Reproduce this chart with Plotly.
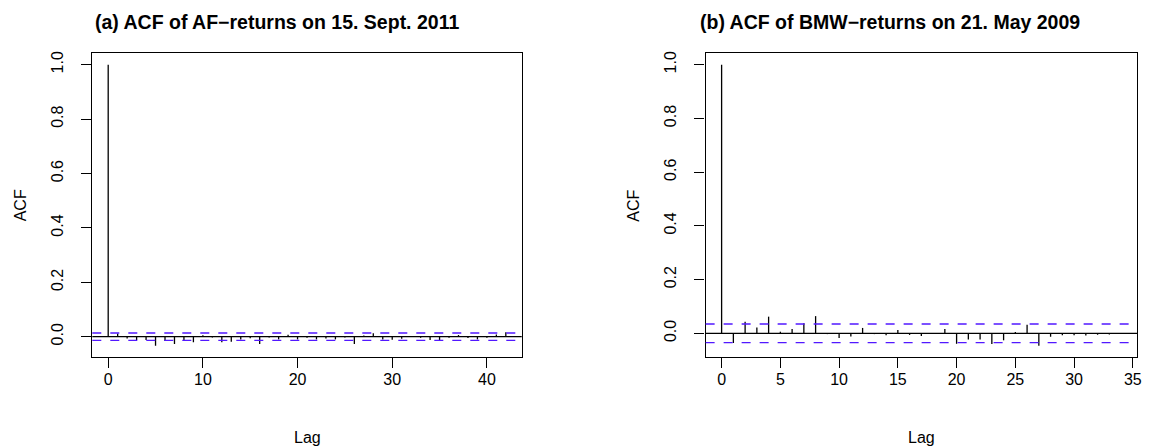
import plotly.graph_objects as go

# Sample autocorrelations of intraday returns
lags_af = list(range(0, 43))
acf_af = [1.0, 0.012, -0.007, -0.012, -0.012, -0.033, -0.016, -0.027, -0.014, -0.020,
          0.005, -0.003, -0.020, -0.019, -0.010, -0.006, -0.027, -0.003, -0.010, 0.007,
          -0.010, -0.004, -0.010, -0.007, -0.010, -0.003, -0.027, 0.004, 0.013, -0.010,
          -0.011, -0.008, 0.003, -0.004, -0.012, -0.013, -0.004, 0.006, -0.005, -0.010,
          -0.004, 0.008, 0.016]
ci_af = 0.0135

lags_bmw = list(range(0, 35))
acf_bmw = [1.0, -0.036, 0.043, 0.022, 0.062, 0.006, 0.016, 0.037, 0.064, -0.003,
           -0.017, -0.012, 0.020, -0.003, -0.007, 0.012, -0.006, -0.010, -0.002, 0.016,
           -0.039, -0.023, -0.023, -0.040, -0.026, 0.005, 0.032, -0.046, -0.013, -0.007,
           -0.007, -0.008, -0.005, -0.004, -0.003]
ci_bmw = 0.0345

titles = ["(a) ACF of AF\u2212returns on 15. Sept. 2011",
          "(b) ACF of BMW\u2212returns on 21. May 2009"]
x_ticks = [[0, 10, 20, 30, 40], [0, 5, 10, 15, 20, 25, 30, 35]]
y_ticks = [0.0, 0.2, 0.4, 0.6, 0.8, 1.0]

W, H = 1156, 447
FONT = "Liberation Sans, Arial, Helvetica, sans-serif"
CI_COLOR = "#5218ff"

# plot boxes in pixels: (left, right), shared top/bottom
boxes = [(92.7, 524.0), (708.7, 1142.0)]
top_px, bot_px = 51.7, 356.5
title_x = [278.5, 894.0]

fig = go.Figure()


def r_range(lo, hi):
    pad = 0.04 * (hi - lo)
    return [lo - pad, hi + pad]


panels = [(lags_af, acf_af, ci_af), (lags_bmw, acf_bmw, ci_bmw)]
for i, (lags, acf, ci) in enumerate(panels):
    xa = "x" if i == 0 else "x2"
    ya = "y" if i == 0 else "y2"
    xs, ys = [], []
    for k, v in zip(lags, acf):
        xs += [k, k, None]
        ys += [0, v, None]
    fig.add_trace(go.Scatter(x=xs, y=ys, mode="lines", xaxis=xa, yaxis=ya,
                             line=dict(color="black", width=1.3),
                             hoverinfo="skip", showlegend=False))

    ylo = min(min(acf), -ci)
    yr = r_range(ylo, 1.0)
    xr = r_range(0, max(lags))
    left, right = boxes[i]
    suffix = "" if i == 0 else "2"

    fig.layout["xaxis" + suffix] = dict(
        domain=[left / W, right / W], range=xr, anchor=ya,
        showline=True, mirror=True, linecolor="black", linewidth=1.3,
        ticks="outside", ticklen=10, tickwidth=1.3, tickcolor="black",
        tickvals=x_ticks[i], ticktext=[str(t) for t in x_ticks[i]],
        showgrid=False, zeroline=False, ticklabelstandoff=-2,
        tickfont=dict(family=FONT, size=16, color="black"))
    fig.layout["yaxis" + suffix] = dict(
        domain=[1 - bot_px / H, 1 - top_px / H], range=yr, anchor=xa,
        showline=True, mirror=True, linecolor="black", linewidth=1.3,
        ticks="outside", ticklen=10, tickwidth=1.3, tickcolor="black",
        tickvals=y_ticks, ticktext=["%.1f" % t for t in y_ticks],
        tickangle=-90, showgrid=False, zeroline=False, ticklabelstandoff=12,
        tickfont=dict(family=FONT, size=16, color="black"))

    # zero line and confidence band
    fig.add_shape(type="line", xref=xa + " domain", yref=ya,
                  x0=0, x1=1, y0=0, y1=0,
                  line=dict(color="black", width=1.3))
    for c in (ci, -ci):
        fig.add_shape(type="line", xref=xa + " domain", yref=ya,
                      x0=0, x1=1, y0=c, y1=c,
                      line=dict(color=CI_COLOR, width=1.4, dash="9px,9px"))

    # titles and axis labels
    fig.add_annotation(text="<b>" + titles[i] + "</b>", xref="paper", yref="paper",
                       x=title_x[i] / W, y=1 - 20 / H, showarrow=False,
                       xanchor="center", yanchor="middle",
                       font=dict(family=FONT, size=19.5, color="black"))
    fig.add_annotation(text="Lag", xref="paper", yref="paper",
                       x=(left + right) / 2 / W, y=1 - 437 / H, showarrow=False,
                       xanchor="center", yanchor="middle",
                       font=dict(family=FONT, size=16, color="black"))
    fig.add_annotation(text="ACF", xref="paper", yref="paper",
                       x=(left - 72.5) / W, y=1 - (top_px + bot_px) / 2 / H,
                       showarrow=False, textangle=-90,
                       xanchor="center", yanchor="middle",
                       font=dict(family=FONT, size=16, color="black"))

fig.update_layout(width=W, height=H, margin=dict(l=0, r=0, t=0, b=0),
                  paper_bgcolor="white", plot_bgcolor="white",
                  showlegend=False)

fig.write_html("out.html", config={"displayModeBar": False})
